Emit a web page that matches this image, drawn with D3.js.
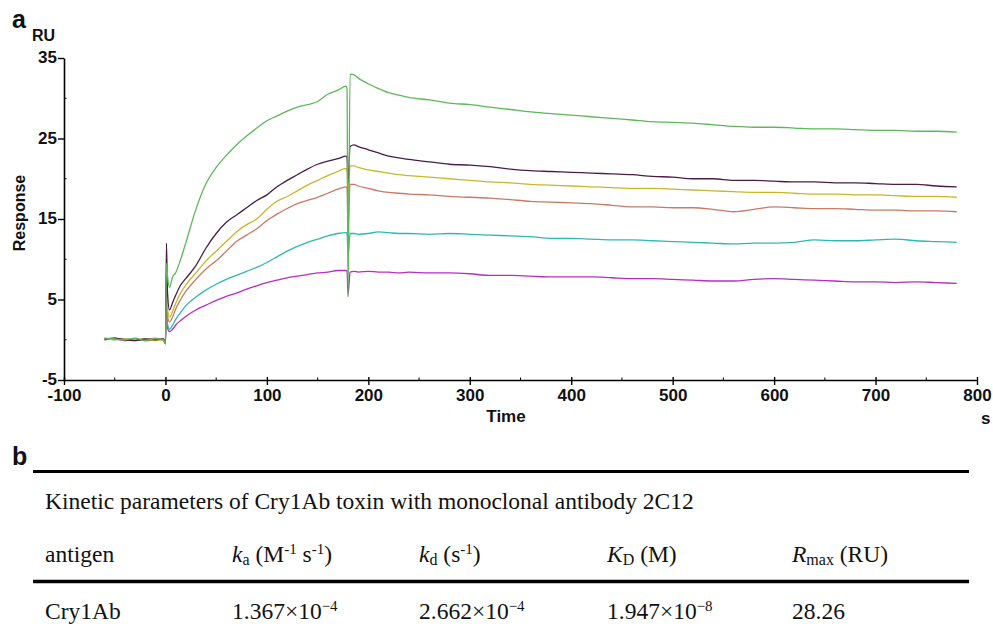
<!DOCTYPE html>
<html>
<head>
<meta charset="utf-8">
<script src="https://cdn.jsdelivr.net/npm/d3@7"></script>
<style>
  body { margin:0; background:#fff; }
  svg text { font-family: Arial, "Liberation Sans", sans-serif; }
  .tbl { font-family: "Times New Roman", "Liberation Serif", serif !important; font-size:23.5px; fill:#111; }
</style>
</head>
<body>
<div id="chart"></div>
<script>
// sensorgram data (time in s, response in RU)
var times = [-60,-50,-40,-30,-20,-10,-2, 0,1,2,4,7, 10,15,20,
  30,40,50,60,70,80,90,100,110,120,130,140,150,160,170,
  178,179,180,182, 186,190, 200,210,220,230,240,
  260,280,300,320,340,360,380,400,420,440,460,480,500,520,540,560,580,600,620,640,660,680,700,720,740,760,780]

var green = [0.2,0.1,0.0,0.2,-0.1,0.1,0.0, -0.5,9.5,8.0,6.5,7.8, 8.3,10.0,12.0,
  16.2,19.4,21.4,22.9,24.2,25.3,26.3,27.2,27.8,28.4,28.9,29.2,29.6,30.5,31.0,
  31.5,31.2,5.3,33.0, 32.9,32.5, 31.8,31.2,30.7,30.4,30.1,
  29.8,29.4,29.2,28.9,28.6,28.3,28.1,27.9,27.7,27.5,27.3,27.1,27.0,26.9,26.7,26.5,26.4,26.4,26.3,26.2,26.2,26.1,26.0,26.0,25.9,25.9,25.8]
var purple = [0.1,0.2,0.0,-0.1,0.1,0.0,0.1, -0.4,12.0,6.0,3.7,4.6, 5.5,6.8,7.6,
  9.2,11.4,13.2,14.6,15.5,16.4,17.3,18.0,19.0,19.8,20.5,21.2,21.8,22.2,22.5,
  22.8,22.6,19.5,24.0, 24.2,24.0, 23.6,23.2,22.8,22.6,22.4,
  22.1,21.8,21.7,21.5,21.2,21.0,20.9,20.8,20.7,20.6,20.5,20.3,20.2,20.0,20.0,19.8,19.8,19.7,19.6,19.6,19.5,19.5,19.4,19.3,19.3,19.1,19.0]
var yellow = [0.2,0.0,0.1,0.0,0.1,-0.1,0.0, -0.4,7.5,4.0,2.8,3.5, 4.5,5.8,6.8,
  8.3,9.8,11.0,12.2,13.4,14.3,15.0,16.2,17.2,17.8,18.5,19.2,19.8,20.4,20.9,
  21.3,21.0,17.5,21.6, 21.6,21.4, 21.1,20.9,20.7,20.5,20.4,
  20.2,20.0,19.8,19.6,19.5,19.3,19.2,19.1,19.0,18.9,18.8,18.8,18.7,18.6,18.5,18.4,18.3,18.3,18.2,18.1,18.1,18.0,18.0,17.9,17.8,17.8,17.7]
var salmon = [0.0,0.2,-0.1,0.1,0.0,0.2,-0.1, -0.5,6.2,3.0,2.2,2.8, 3.8,5.0,6.0,
  7.5,8.8,9.8,11.0,12.2,13.0,13.8,14.8,15.6,16.3,16.9,17.3,17.7,18.2,18.7,
  19.0,18.8,14.0,19.3, 19.3,19.1, 18.8,18.5,18.3,18.2,18.1,
  18.0,17.8,17.7,17.6,17.4,17.2,17.1,17.0,16.9,16.7,16.5,16.5,16.4,16.4,16.2,15.9,16.2,16.5,16.4,16.3,16.3,16.2,16.1,16.1,16.0,16.0,15.9]
var teal = [0.1,0.0,0.1,-0.1,0.0,0.1,0.0, -0.4,4.5,2.0,1.3,1.8, 2.5,3.4,4.2,
  5.3,6.2,6.9,7.5,8.0,8.5,9.0,9.6,10.3,11.0,11.6,12.1,12.5,12.9,13.2,
  13.3,13.2,10.5,13.2, 13.2,13.1, 13.2,13.4,13.3,13.2,13.2,
  13.1,13.2,13.1,13.0,12.9,12.8,12.6,12.6,12.5,12.4,12.4,12.3,12.2,12.1,12.0,11.9,12.0,12.0,12.1,12.4,12.3,12.3,12.4,12.5,12.3,12.2,12.1]
var magenta = [0.0,0.1,-0.1,0.0,-0.1,0.0,0.1, -0.5,5.2,1.5,1.0,1.3, 1.8,2.4,2.9,
  3.7,4.3,4.9,5.4,5.8,6.3,6.7,7.1,7.4,7.7,7.9,8.1,8.3,8.4,8.6,
  8.6,8.5,5.6,8.4, 8.5,8.4, 8.5,8.4,8.4,8.3,8.4,
  8.3,8.3,8.2,8.0,8.0,7.9,7.8,7.8,7.8,7.7,7.6,7.6,7.5,7.4,7.3,7.3,7.5,7.6,7.5,7.4,7.3,7.2,7.2,7.1,7.2,7.1,7.0]

var xMajor = [-100,0,100,200,300,400,500,600,700,800]
var yMajor = [-5,5,15,25,35]

// table b
var tableTitle = 'Kinetic parameters of Cry1Ab toxin with monoclonal antibody 2C12'
var tableHead = [
  [['antigen']],
  [['k','i'],['a','sub'],[' (M'],['-1','sup'],[' s'],['-1','sup'],[')']],
  [['k','i'],['d','sub'],[' (s'],['-1','sup'],[')']],
  [['K','i'],['D','sub'],[' (M)']],
  [['R','i'],['max','sub'],[' (RU)']]
]
var tableRow = [
  [['Cry1Ab']],
  [['1.367×10'],['−4','sup']],
  [['2.662×10'],['−4','sup']],
  [['1.947×10'],['−8','sup']],
  [['28.26']]
]

var colors = { green:'#5db85a', purple:'#4a1d48', yellow:'#c9b62c', salmon:'#c97a66', teal:'#2fb8b2', magenta:'#b52fbf' }

var W = 993, H = 629
var svg = d3.select('#chart').append('svg').attr('width', W).attr('height', H)

var x = d3.scaleLinear().domain([-100, 800]).range([64, 977])
var y = d3.scaleLinear().domain([-5, 35]).range([380, 58])

// axes
var gx = svg.append('g').attr('transform', 'translate(0,' + y(-5) + ')')
    .call(d3.axisBottom(x).tickValues(xMajor).tickSize(5).tickSizeOuter(0).tickFormat(d=> String(d)))
gx.selectAll('.tick line').attr('y1', -3).attr('stroke-width', 1.4)
gx.selectAll('.tick text').attr('dy', '0.78em')
// minor x ticks
gx.selectAll('.minor').data(d3.range(-50, 800, 100)).enter().append('line')
    .attr('x1', d=> x(d)).attr('x2', d=> x(d)).attr('y1', 0).attr('y2', -2.5)
    .attr('stroke', '#000')

var gy = svg.append('g').attr('transform', 'translate(' + x(-100) + ',0)')
    .call(d3.axisLeft(y).tickValues(yMajor).tickSize(6).tickSizeOuter(0).tickFormat(d=> String(d)))
gy.selectAll('.tick line').attr('stroke-width', 1.4)
gy.selectAll('.tick text').attr('x', -7).attr('dy', '0.28em')
gy.selectAll('.minor').data([0, 10, 20, 30]).enter().append('line')
    .attr('y1', d=> y(d)).attr('y2', d=> y(d)).attr('x1', 0).attr('x2', 2.5)
    .attr('stroke', '#000')

svg.selectAll('.domain').attr('stroke', '#000').attr('stroke-width', 1.6)
svg.selectAll('.tick text').attr('font-size', 17).attr('font-weight', 'bold').attr('fill', '#111')

// curves
var line = d3.line().x((d, i)=> x(times[i])).y(d=> y(d)).curve(d3.curveMonotoneX)
var series = [
  { name:'magenta', v:magenta },
  { name:'teal', v:teal },
  { name:'salmon', v:salmon },
  { name:'yellow', v:yellow },
  { name:'purple', v:purple },
  { name:'green', v:green }
]
svg.append('g').selectAll('path').data(series).enter().append('path')
    .attr('d', d=> line(d.v))
    .attr('fill', 'none')
    .attr('stroke', d=> colors[d.name])
    .attr('stroke-width', 1.3)
    .attr('stroke-linejoin', 'round')

// labels
var lab = (t, px, py, size, extra)=> {
  var e = svg.append('text').attr('x', px).attr('y', py).attr('font-size', size)
      .attr('font-weight', 'bold').attr('fill', '#111').text(t)
  if (extra) extra(e)
  return e
}
lab('a', 12, 28, 25)
lab('RU', 32, 41, 16)
lab('Response', 25, 213, 16, e=> e.attr('text-anchor', 'middle').attr('transform', 'rotate(-90,25,213)'))
lab('Time', 506, 422, 17, e=> e.attr('text-anchor', 'middle'))
lab('s', 981, 424, 17)
lab('b', 12, 465, 25)

// table
var tb = svg.append('g')
tb.append('line').attr('x1', 33).attr('x2', 969).attr('y1', 471.5).attr('y2', 471.5).attr('stroke', '#000').attr('stroke-width', 3)
tb.append('line').attr('x1', 33).attr('x2', 969).attr('y1', 581.5).attr('y2', 581.5).attr('stroke', '#000').attr('stroke-width', 3.5)
tb.append('text').attr('class', 'tbl').attr('x', 45).attr('y', 509).text(tableTitle)

var colX = [45, 232, 419, 607, 792]
function richText(g, segs, px, py) {
  var t = g.append('text').attr('class', 'tbl').attr('x', px).attr('y', py)
  segs.forEach(s=> {
    var sp = t.append('tspan').text(s[0])
    if (s[1] === 'i') sp.attr('font-style', 'italic')
    if (s[1] === 'sub') sp.attr('font-size', 16).attr('baseline-shift', '-3')
    if (s[1] === 'sup') sp.attr('font-size', 15).attr('baseline-shift', '8')
  })
}
tableHead.forEach((h, i)=> richText(tb, h, colX[i], 562))
tableRow.forEach((r, i)=> richText(tb, r, colX[i], 619))
</script>
</body>
</html>
